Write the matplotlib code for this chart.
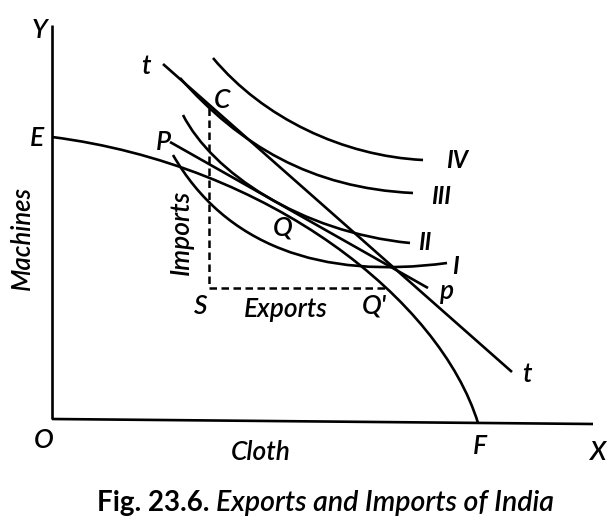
import matplotlib
matplotlib.use("Agg")
import matplotlib.pyplot as plt
from matplotlib.path import Path
from matplotlib.patches import PathPatch

# diagram drawn in picture units (x to the right, y downwards)
y_axis = [(52, 25), (52, 419)]
x_axis = [(52, 419), (593, 424)]

# production possibility curve E..F (cubic bezier: start, c1, c2, end)
ppc = [(52, 137), (270, 165), (440, 300), (478, 423)]

# indifference curves
ic_I = [(173, 155), (225, 245), (320, 280), (447, 263)]
ic_II = [(183, 115), (212, 172), (300, 232), (410, 243)]
ic_III = [(180, 78), (240, 145), (310, 188), (413, 193)]
ic_IV = [(213, 58), (263, 118), (343, 156), (423, 160)]

# price lines
line_tt = [(163, 64), (512, 372)]
line_pp = [(170, 142), (428, 288)]

# trade triangle C - S - Q'
pt_C = (209, 108)
pt_S = (209, 288)
pt_Q2 = (388, 288)

labels = [
    ("Y", 40, 30), ("E", 37, 138), ("O", 44, 440), ("F", 480, 447),
    ("X", 597, 453), ("t", 146, 66), ("C", 222, 100), ("P", 163, 142),
    ("p", 447, 292), ("t", 527, 375), ("Q", 283, 228), ("Q'", 374, 306),
    ("S", 201, 307), ("Exports", 286, 309), ("Cloth", 261, 452),
]
roman = [("IV", 457, 160), ("III", 441, 197), ("II", 425, 243), ("I", 455, 267)]

fig = plt.figure(figsize=(6.10, 5.27), dpi=100)
ax = fig.add_axes([0, 0, 1, 1])
ax.set_xlim(0, 610)
ax.set_ylim(527, 0)
ax.axis("off")

lw = 1.9
for seg in (y_axis, x_axis, line_tt, line_pp):
    ax.plot([seg[0][0], seg[1][0]], [seg[0][1], seg[1][1]], color="black", lw=lw,
            solid_capstyle="butt")

codes = [Path.MOVETO, Path.CURVE4, Path.CURVE4, Path.CURVE4]
for curve in (ppc, ic_I, ic_II, ic_III, ic_IV):
    ax.add_patch(PathPatch(Path(curve, codes), fill=False, edgecolor="black", lw=lw))

ax.plot([pt_C[0], pt_S[0], pt_Q2[0]], [pt_C[1], pt_S[1], pt_Q2[1]], color="black",
        lw=1.8, linestyle=(0, (3, 1.8)))

font = ["Lato", "DejaVu Sans"]
for txt, x, y in labels:
    ax.text(x, y, txt, fontsize=19, style="italic", weight="semibold", family=font,
            ha="center", va="center")
for txt, x, y in roman:
    ax.text(x, y, txt, fontsize=17, style="italic", weight="bold", family=font,
            ha="center", va="center")
ax.text(22, 238, "Machines", fontsize=18.5, style="italic", weight="semibold", family=font,
        rotation=90, ha="center", va="center")
ax.text(181, 232, "Imports", fontsize=19, style="italic", weight="semibold", family=font,
        rotation=90, ha="center", va="center")

ax.text(97, 503, "Fig. 23.6.", fontsize=20, weight="bold", family=font, ha="left", va="center")
ax.text(216, 503, "Exports and Imports of India", fontsize=20.5, style="italic",
        weight="semibold", family=font, ha="left", va="center")

fig.savefig("out.png", dpi=100)
